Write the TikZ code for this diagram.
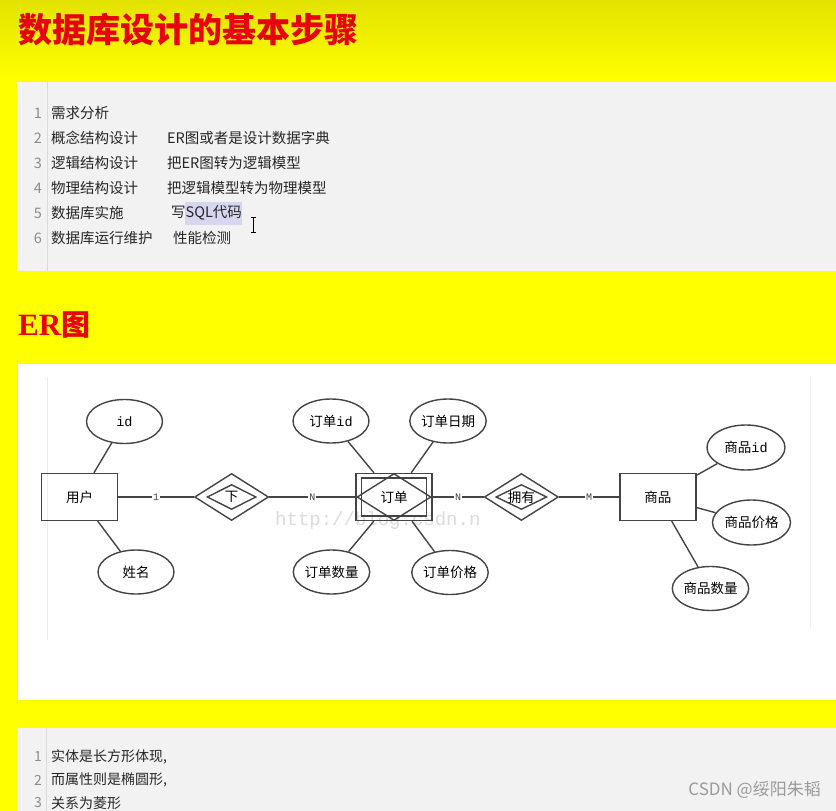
\documentclass[tikz,border=0pt]{standalone}
\usepackage{fontspec}
\setmainfont{Noto Sans CJK SC}
\setmonofont{Liberation Mono}
\newfontfamily\serifen{Liberation Serif}
\usepackage{xcolor}
\usetikzlibrary{positioning,shapes.geometric}
\definecolor{amarillo}{HTML}{FFFF00}
\definecolor{amarilloosc}{HTML}{E2E200}
\definecolor{rojo}{HTML}{E8000E}
\definecolor{fondo}{HTML}{F2F2F2}
\definecolor{margen}{HTML}{DADADA}
\definecolor{numero}{HTML}{8C8C8C}
\definecolor{resalte}{HTML}{D6D6F0}
\definecolor{trazo}{HTML}{444444}
\definecolor{marca}{HTML}{9A9A9A}
\newcommand{\tam}[1]{\fontsize{#1}{#1}\selectfont}

\begin{document}
\begin{tikzpicture}[x=1pt, y=-1pt,
  texto/.style={anchor=west, inner sep=0pt, font=\tam{14.5}, text=black!85},
  num/.style={inner sep=0pt, font=\tam{14.5}, text=numero},
  entidad/.style={rectangle, draw=trazo, line width=1.4pt, minimum width=76pt, minimum height=47pt, inner sep=0pt, font=\tam{13.5}},
  atributo/.style={ellipse, draw=trazo, line width=1.4pt, minimum width=76pt, minimum height=44pt, inner sep=0pt, font=\tam{13.5}},
  relacion/.style={diamond, draw=trazo, line width=1.4pt, minimum width=74pt, minimum height=47pt, inner sep=0pt, font=\tam{13.5}},
  relint/.style={diamond, draw=trazo, line width=1.4pt, minimum width=49pt, minimum height=25pt, inner sep=0pt},
  linea/.style={draw=trazo, line width=1.4pt},
  card/.style={fill=white, inner sep=1pt, font=\ttfamily\tam{10}, text=trazo}
]
\useasboundingbox (0,0) rectangle (836,811);
\clip (0,0) rectangle (836,811);
\fill[amarillo] (0,0) rectangle (836,811);
\shade[top color=amarilloosc, bottom color=amarillo] (0,0) rectangle (836,80);

\node[anchor=west, inner sep=0pt, font=\bfseries\tam{34}, text=rojo] (titulo) at (18,30) {数据库设计的基本步骤};

\fill[fondo] (17,82) rectangle (836,271);
\draw[margen] (47,82) -- (47,271);
\fill[resalte] (185,202) rectangle (242,225);
\foreach \n/\a/\b/\x in {1/需求分析//167, 2/概念结构设计/ER图或者是设计数据字典/167,
  3/逻辑结构设计/把ER图转为逻辑模型/167, 4/物理结构设计/把逻辑模型转为物理模型/167,
  5/数据库实施/写SQL代码/171, 6/数据库运行维护/性能检测/173}{
  \node[num] (n\n) at (38,88+25*\n) {\n};
  \node[texto] (paso\n) at (51,88+25*\n) {\a};
  \node[texto] (desc\n) at (\x,88+25*\n) {\b};
}
\draw[black, line width=0.8pt] (251,217) -- (256,217) (253.5,217) -- (253.5,232) (251,232) -- (256,232);

\node[anchor=west, inner sep=0pt, text=rojo] (titulo2) at (18,325) {{\serifen\bfseries\tam{31}ER}{\bfseries\tam{29}图}};

\fill[white] (18,364) rectangle (836,700);
\draw[black!8] (47,377) -- (47,640);
\draw[black!6] (810,376) -- (810,628);
\node[anchor=west, inner sep=0pt, font=\ttfamily\tam{19}, text=black!14] (url) at (275,521) {http://blog.csdn.n};

\node[entidad] (usuario) at (79.5,497) {用户};
\node[relacion, right=75.7pt of usuario] (bajo) {};
\node[relint] (bajoint) at (bajo) {};
\node[font=\tam{13.5}] (bajotxt) at (bajo) {下};
\node[entidad, right=86pt of bajo] (pedido) {};
\node[entidad, minimum width=65pt, minimum height=38pt] (pedidoint) at (pedido) {};
\node[relacion] (pedidorel) at (pedido) {订单};
\node[relacion, right=51pt of pedido] (tiene) {};
\node[relint, minimum width=51pt] (tieneint) at (tiene) {};
\node[font=\tam{13.5}] (tienetxt) at (tiene) {拥有};
\node[entidad, right=60pt of tiene] (producto) {商品};

\node[atributo] (uid) at (124.5,421.5) {\texttt{id}};
\node[atributo] (unombre) at (136,572) {姓名};
\node[atributo] (pid) at (331,421) {订单\texttt{id}};
\node[atributo] (pfecha) at (448,421) {订单日期};
\node[atributo] (pcant) at (331.5,572) {订单数量};
\node[atributo] (pprecio) at (450,572.5) {订单价格};
\node[atributo, minimum width=78pt, minimum height=45pt] (prodid) at (746,447.5) {商品\texttt{id}};
\node[atributo, minimum width=78pt, minimum height=45pt] (prodprecio) at (751.5,522.5) {商品价格};
\node[atributo] (prodcant) at (710.5,588.5) {商品数量};

\draw[linea] (uid) -- (usuario);
\draw[linea] (unombre) -- (usuario);
\draw[linea] (pid) -- (pedido);
\draw[linea] (pfecha) -- (pedido);
\draw[linea] (pcant) -- (pedido);
\draw[linea] (pprecio) -- (pedido);
\draw[linea] (prodid) -- (producto);
\draw[linea] (prodprecio) -- (producto);
\draw[linea] (prodcant) -- (producto);
\draw[linea] (usuario) -- node[card] (c1) {1} (bajo);
\draw[linea] (bajo) -- node[card] (c2) {N} (pedido);
\draw[linea] (pedido) -- node[card] (c3) {N} (tiene);
\draw[linea] (tiene) -- node[card] (c4) {M} (producto);

\fill[fondo] (17,728) rectangle (836,811);
\draw[margen] (46,728) -- (46,811);
\foreach \n/\t in {1/{实体是长方形体现,}, 2/{而属性则是椭圆形,}, 3/关系为菱形}{
  \node[num, font=\tam{14}] (m\n) at (38,734+23*\n) {\n};
  \node[texto, font=\tam{14}] (nota\n) at (51,734+23*\n) {\t};
}
\node[anchor=east, inner sep=0pt, font=\tam{17}, text=marca] (csdn) at (821,790) {CSDN @绥阳朱韬};
\end{tikzpicture}
\end{document}
